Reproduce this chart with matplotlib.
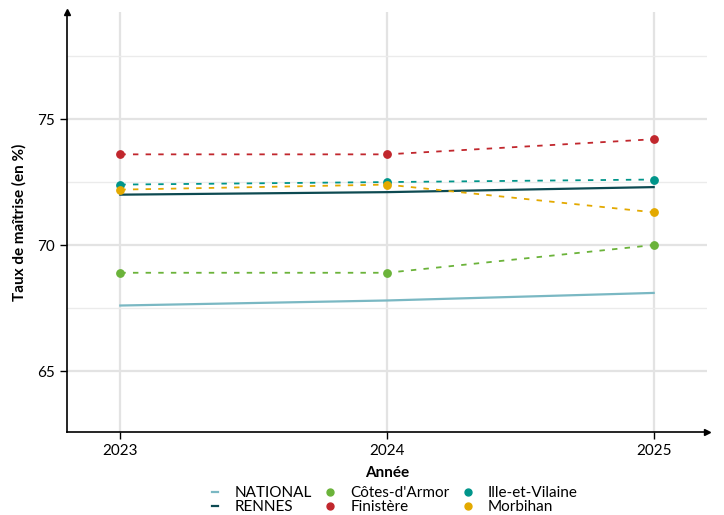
import matplotlib.pyplot as plt
from matplotlib.lines import Line2D

plt.rcParams['font.family'] = ['Lato', 'DejaVu Sans']

years = [2023, 2024, 2025]
national = [67.6, 67.8, 68.1]
rennes = [72.0, 72.1, 72.3]
cotes = [68.9, 68.9, 70.0]
finistere = [73.6, 73.6, 74.2]
ille = [72.4, 72.5, 72.6]
morbihan = [72.2, 72.4, 71.3]

c_nat = '#7ab8c3'
c_ren = '#0d4a52'
depts = [('Côtes-d\'Armor', cotes, '#6bb33a'),
         ('Finistère', finistere, '#c1272d'),
         ('Ille-et-Vilaine', ille, '#00958a'),
         ('Morbihan', morbihan, '#e3a900')]

fig = plt.figure(figsize=(7.24, 5.15), dpi=100)
ax = fig.add_axes([67 / 724, 1 - 432 / 515, 640 / 724, 420 / 515])

ax.set_xlim(2022.8, 2025.2)
ax.set_ylim(62.58, 79.25)
ax.set_yticks([65, 70, 75])
ax.set_yticks([67.5, 72.5, 77.5], minor=True)
ax.set_xticks(years)
ax.grid(True, which='major', color='#e3e3e3', lw=1.6)
ax.grid(True, which='minor', axis='y', color='#ebebeb', lw=1.0)
ax.tick_params(axis='y', which='minor', length=0)
ax.tick_params(axis='both', which='major', labelsize=11, color='black', length=5, width=1)
ax.set_axisbelow(True)

for s in ['top', 'right']:
    ax.spines[s].set_visible(False)
for s in ['left', 'bottom']:
    ax.spines[s].set_linewidth(1.2)
ax.plot(1, 0, '>k', ms=4, transform=ax.transAxes, clip_on=False)
ax.plot(0, 1, '^k', ms=4, transform=ax.transAxes, clip_on=False)

ax.plot(years, national, color=c_nat, lw=1.6)
ax.plot(years, rennes, color=c_ren, lw=1.6)
for name, vals, col in depts:
    ax.plot(years, vals, color=col, lw=1.3, ls=(0, (3, 4)))
    ax.scatter(years, vals, color=col, s=28, zorder=3)

ax.set_ylabel('Taux de maîtrise (en %)', fontsize=11, fontweight='bold', labelpad=8)
ax.set_xlabel('Année', fontsize=11, fontweight='bold', labelpad=6)

handles = [
    Line2D([], [], color=c_nat, lw=1.6),
    Line2D([], [], color=c_ren, lw=1.6),
    Line2D([], [], marker='o', ls='', color=depts[0][2], ms=5),
    Line2D([], [], marker='o', ls='', color=depts[1][2], ms=5),
    Line2D([], [], marker='o', ls='', color=depts[2][2], ms=5),
    Line2D([], [], marker='o', ls='', color=depts[3][2], ms=5),
]
labels = ['NATIONAL', 'RENNES'] + [d[0] for d in depts]
fig.legend(handles, labels, ncol=3, loc='lower center', bbox_to_anchor=(0.545, 1 / 515),
           frameon=False, fontsize=11, handlelength=0.4, handletextpad=1.1,
           columnspacing=1.0, labelspacing=0.0, borderpad=0, borderaxespad=0)

fig.savefig('out.png', dpi=100)
